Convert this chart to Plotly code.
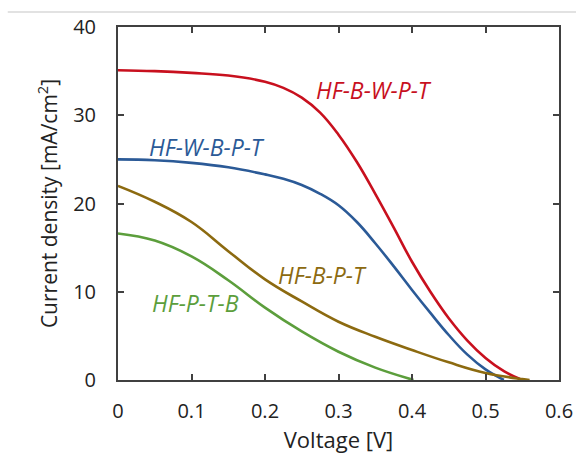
import plotly.graph_objects as go

# J-V curves: voltage [V] and current density [mA/cm^2]
v_bwpt = [0, 0.05, 0.1, 0.15, 0.2, 0.225, 0.25, 0.275, 0.3, 0.325, 0.35, 0.375, 0.4, 0.425, 0.45, 0.475, 0.5, 0.525, 0.55]
j_bwpt = [35.1, 35.0, 34.8, 34.5, 33.8, 33.1, 32.0, 30.3, 27.8, 24.7, 21.1, 17.3, 13.4, 10.0, 7.0, 4.5, 2.5, 1.0, 0.0]

v_wbpt = [0, 0.05, 0.1, 0.15, 0.2, 0.225, 0.25, 0.275, 0.3, 0.325, 0.35, 0.375, 0.4, 0.425, 0.45, 0.475, 0.5, 0.525]
j_wbpt = [25.0, 24.9, 24.6, 24.1, 23.3, 22.8, 22.1, 21.1, 19.8, 17.9, 15.5, 12.9, 10.2, 7.6, 5.1, 2.9, 1.2, 0.0]

v_bpt = [0, 0.05, 0.1, 0.15, 0.2, 0.25, 0.3, 0.35, 0.4, 0.45, 0.5, 0.55, 0.56]
j_bpt = [22.0, 20.2, 17.9, 14.6, 11.4, 8.9, 6.6, 4.9, 3.4, 2.0, 0.8, 0.1, 0.0]

v_ptb = [0, 0.05, 0.1, 0.15, 0.2, 0.25, 0.3, 0.35, 0.4, 0.402]
j_ptb = [16.6, 15.8, 14.0, 11.3, 8.2, 5.5, 3.2, 1.4, 0.05, 0.0]

series_names = ["HF-B-W-P-T", "HF-W-B-P-T", "HF-B-P-T", "HF-P-T-B"]
series_colors = ["#C8101E", "#2B5A97", "#8C6A10", "#5C9E3C"]
label_pos = [(0.348, 32.9), (0.121, 26.4), (0.278, 11.9), (0.105, 8.7)]

x_ticks = [0, 0.1, 0.2, 0.3, 0.4, 0.5, 0.6]
y_ticks = [0, 10, 20, 30, 40]

fig = go.Figure()
for v, j, name, color in zip([v_bwpt, v_wbpt, v_bpt, v_ptb],
                             [j_bwpt, j_wbpt, j_bpt, j_ptb],
                             series_names, series_colors):
    fig.add_trace(go.Scatter(x=v, y=j, mode="lines", name=name,
                             line=dict(color=color, width=2.6, shape="spline", smoothing=1.2)))

for (lx, ly), name, color in zip(label_pos, series_names, series_colors):
    fig.add_annotation(x=lx, y=ly, text=f"<i>{name}</i>", showarrow=False,
                       font=dict(family="Open Sans", size=23, color=color))

axis_style = dict(showline=True, mirror="allticks", linecolor="#404040", linewidth=2,
                  ticks="inside", ticklen=6, tickwidth=1.5, tickcolor="#404040",
                  showgrid=False, zeroline=False, automargin=False,
                  tickfont=dict(family="Open Sans", size=20, color="#222222"))

fig.update_xaxes(range=[0, 0.6], tickvals=x_ticks, ticktext=[f"{t:g}" for t in x_ticks],
                 ticklabelstandoff=12,
                 title=dict(text="Voltage [V]", font=dict(family="Open Sans", size=22, color="#222222"),
                            standoff=10),
                 **axis_style)
fig.update_yaxes(range=[0, 40], tickvals=y_ticks, ticklabelstandoff=16,
                 title=dict(text="Current density [mA/cm<sup>2</sup>]",
                            font=dict(family="Open Sans", size=21, color="#222222"), standoff=10),
                 **axis_style)

# thin separator rule above the chart
fig.add_shape(type="line", xref="paper", yref="paper", x0=-0.25, x1=1.04, y0=1.0425, y1=1.0425,
              line=dict(color="#D9D9D9", width=1.5))

fig.update_layout(width=576, height=456, showlegend=False,
                  margin=dict(l=118, r=17, t=27, b=76),
                  plot_bgcolor="white", paper_bgcolor="white")

fig.write_html("out.html")
